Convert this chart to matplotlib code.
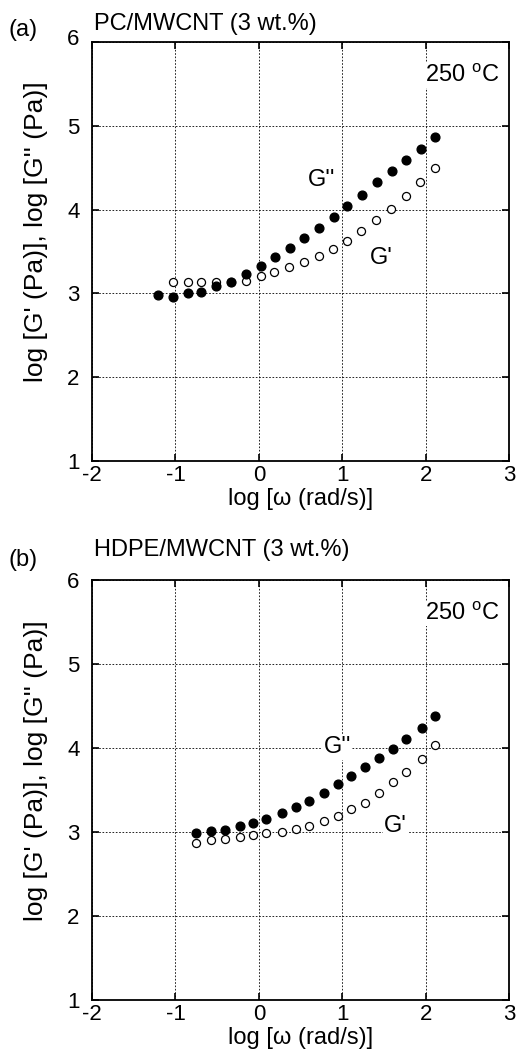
import matplotlib
matplotlib.use('Agg')
import matplotlib.pyplot as plt
from matplotlib.transforms import ScaledTranslation

plt.rcParams['font.family'] = ['Liberation Sans', 'DejaVu Sans']
plt.rcParams['mathtext.fontset'] = 'custom'
plt.rcParams['mathtext.rm'] = 'Liberation Sans'
plt.rcParams['axes.unicode_minus'] = False

# (a) PC/MWCNT: log omega, log G'' (filled), log G' (open)
a_w_g2 = [-1.21, -1.03, -0.85, -0.69, -0.51, -0.33, -0.15, 0.03, 0.19, 0.37,
          0.54, 0.72, 0.90, 1.06, 1.24, 1.42, 1.60, 1.76, 1.94, 2.11]
a_g2 = [2.98, 2.96, 3.00, 3.02, 3.09, 3.14, 3.23, 3.33, 3.43, 3.54,
        3.66, 3.78, 3.91, 4.04, 4.17, 4.33, 4.46, 4.59, 4.72, 4.86]
a_w_g1 = [-1.03, -0.85, -0.69, -0.51, -0.33, -0.16, 0.02, 0.18, 0.36, 0.54,
          0.72, 0.89, 1.06, 1.23, 1.41, 1.59, 1.76, 1.93, 2.11]
a_g1 = [3.14, 3.14, 3.14, 3.14, 3.14, 3.15, 3.21, 3.25, 3.31, 3.37,
        3.44, 3.53, 3.63, 3.75, 3.87, 4.01, 4.16, 4.33, 4.50]

# (b) HDPE/MWCNT
b_w = [-0.75, -0.57, -0.40, -0.23, -0.07, 0.09, 0.28, 0.44, 0.60, 0.78,
       0.95, 1.10, 1.27, 1.44, 1.61, 1.77, 1.95, 2.11]
b_g2 = [2.99, 3.01, 3.02, 3.07, 3.11, 3.15, 3.23, 3.30, 3.37, 3.46,
        3.57, 3.67, 3.77, 3.88, 3.99, 4.11, 4.24, 4.38]
b_g1 = [2.87, 2.90, 2.92, 2.94, 2.96, 2.99, 3.00, 3.03, 3.07, 3.13,
        3.19, 3.27, 3.35, 3.46, 3.59, 3.71, 3.87, 4.04]

xticks = [-2, -1, 0, 1, 2, 3]
yticks = [1, 2, 3, 4, 5, 6]

fig = plt.figure(figsize=(5.2, 10.59), dpi=100)
ax_a = fig.add_axes([0.177, 0.5647, 0.802, 0.3957])
ax_b = fig.add_axes([0.177, 0.0557, 0.802, 0.3966])

panels = [
    (ax_a, a_w_g2, a_g2, a_w_g1, a_g1, '(a)', 'PC/MWCNT (3 wt.%)',
     (0.75, 4.35), (1.47, 3.42), 1.043, 1.029, 5),
    (ax_b, b_w, b_g2, b_w, b_g1, '(b)', 'HDPE/MWCNT (3 wt.%)',
     (0.94, 4.01), (1.64, 3.07), 1.071, 1.048, 0),
]

bbox = dict(facecolor='white', edgecolor='none', pad=1.0)

for ax, wx2, g2, wx1, g1, tag, title, pos2, pos1, ty, tagy, six_up in panels:
    ax.set_xlim(-2, 3)
    ax.set_ylim(1, 6)
    ax.set_xticks(xticks)
    ax.set_yticks(yticks)
    ax.grid(True, color='black', linestyle=(0, (2, 2)), linewidth=0.6)
    ax.tick_params(direction='in', top=True, right=True, length=5,
                   width=1.2, labelsize=16)
    ax.tick_params(axis='x', pad=3)
    ax.tick_params(axis='y', pad=9)
    for s in ax.spines.values():
        s.set_linewidth(1.3)
    ax.plot(wx1, g1, 'o', ms=5.8, mfc='white', mec='black', mew=0.9,
            linestyle='none', zorder=3)
    ax.plot(wx2, g2, 'o', ms=6.3, mfc='black', mec='black',
            linestyle='none', zorder=4)
    ax.text(pos2[0], pos2[1], "G''", fontsize=17, ha='center', va='center',
            bbox=bbox, zorder=5)
    ax.text(pos1[0], pos1[1], "G'", fontsize=17, ha='center', va='center',
            bbox=bbox, zorder=5)
    ax.text(1.99, 5.6, r"250 $^{\mathrm{o}}$C", fontsize=17, ha='left',
            va='center', bbox=bbox, zorder=5)
    ax.set_xlabel('log [\u03c9 (rad/s)]', fontsize=17, va='top')
    ax.xaxis.set_label_coords(0.5, -0.064)
    ax.set_ylabel("log [G' (Pa)], log [G'' (Pa)]", fontsize=19)
    ax.yaxis.set_label_coords(-0.105, 0.546)
    ax.text(-0.2, tagy, tag, transform=ax.transAxes, fontsize=17,
            ha='left', va='center')
    ax.text(0.004, ty, title, transform=ax.transAxes, fontsize=17,
            ha='left', va='center')
    if six_up:
        lbl = ax.get_yticklabels()[-1]
        lbl.set_transform(lbl.get_transform() +
                          ScaledTranslation(0, six_up / 100, fig.dpi_scale_trans))

fig.savefig('out.png', dpi=100)
